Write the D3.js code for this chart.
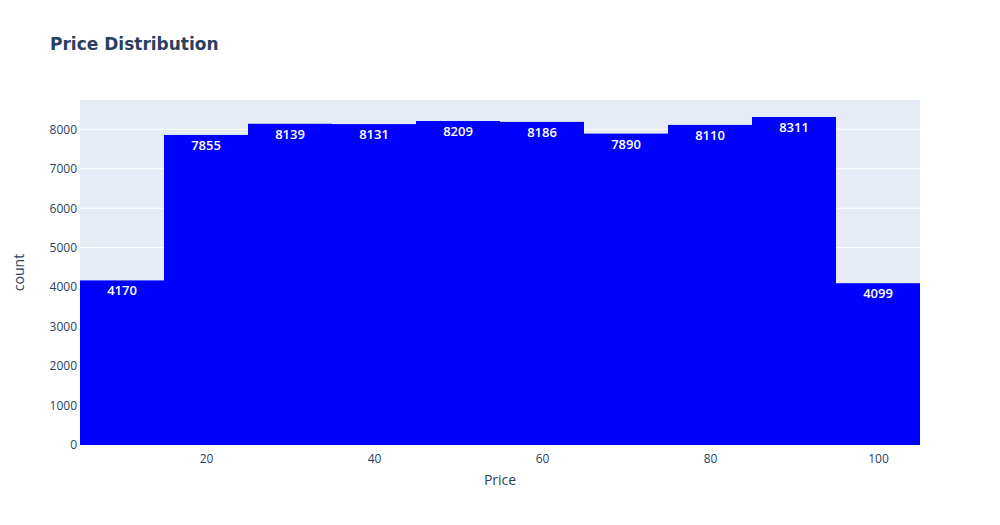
<!DOCTYPE html>
<html><head><meta charset="utf-8">
<script src="https://cdn.jsdelivr.net/npm/d3@7"></script>
<style>body{margin:0;background:#fff}svg{display:block;font-family:"Open Sans",sans-serif}</style>
</head><body><svg id="c" width="1000" height="525"></svg>
<script>
const binStarts = [5, 15, 25, 35, 45, 55, 65, 75, 85, 95];
const binWidth = 10;
const counts = [4170, 7855, 8139, 8131, 8209, 8186, 7890, 8110, 8311, 4099];
const xTicks = [20, 40, 60, 80, 100];
const yTicks = [0, 1000, 2000, 3000, 4000, 5000, 6000, 7000, 8000];

const svg = d3.select("#c");
const L = 80, R = 920, T = 100, B = 445;
const x = d3.scaleLinear().domain([5, 105]).range([L, R]);
const y = d3.scaleLinear().domain([0, 8741]).range([B, T]);
const txt = "#2a3f5f";

svg.append("rect").attr("x", L).attr("y", T).attr("width", R - L).attr("height", B - T).attr("fill", "#e5ecf6");

svg.append("g").selectAll("line").data(yTicks.filter(d => d > 0)).join("line")
  .attr("x1", L).attr("x2", R).attr("y1", d => y(d)).attr("y2", d => y(d))
  .attr("stroke", "#fff").attr("stroke-width", 1);

svg.append("g").selectAll("rect").data(counts).join("rect")
  .attr("x", (d, i) => x(binStarts[i]))
  .attr("width", (d, i) => x(binStarts[i] + binWidth) - x(binStarts[i]))
  .attr("y", d => y(d)).attr("height", d => B - y(d))
  .attr("fill", "#0000ff");

svg.append("g").selectAll("text").data(counts).join("text")
  .attr("x", (d, i) => x(binStarts[i] + binWidth / 2))
  .attr("y", d => y(d) + 15)
  .attr("text-anchor", "middle").attr("fill", "#fff")
  .attr("font-size", 13).attr("font-weight", 600)
  .text(d => d);

const xAxis = svg.append("g").attr("transform", `translate(0,${B})`)
  .call(d3.axisBottom(x).tickValues(xTicks).tickSize(0).tickPadding(9));
xAxis.select(".domain").remove();
xAxis.selectAll("text").attr("fill", txt).attr("font-size", 12).attr("font-family", "Open Sans");

const yAxis = svg.append("g").attr("transform", `translate(${L},0)`)
  .call(d3.axisLeft(y).tickValues(yTicks).tickSize(0).tickPadding(3).tickFormat(d3.format("d")));
yAxis.select(".domain").remove();
yAxis.selectAll("text").attr("fill", txt).attr("font-size", 12).attr("font-family", "Open Sans");

svg.append("text").attr("x", 500).attr("y", 485).attr("text-anchor", "middle")
  .attr("fill", txt).attr("font-size", 14).text("Price");
svg.append("text").attr("transform", `translate(24,${(T + B) / 2}) rotate(-90)`).attr("text-anchor", "middle")
  .attr("fill", txt).attr("font-size", 14).text("count");
svg.append("text").attr("x", 50).attr("y", 50).attr("fill", txt)
  .attr("font-family", "DejaVu Sans").attr("font-size", 17).attr("font-weight", 700).text("Price Distribution");
</script></body></html>
